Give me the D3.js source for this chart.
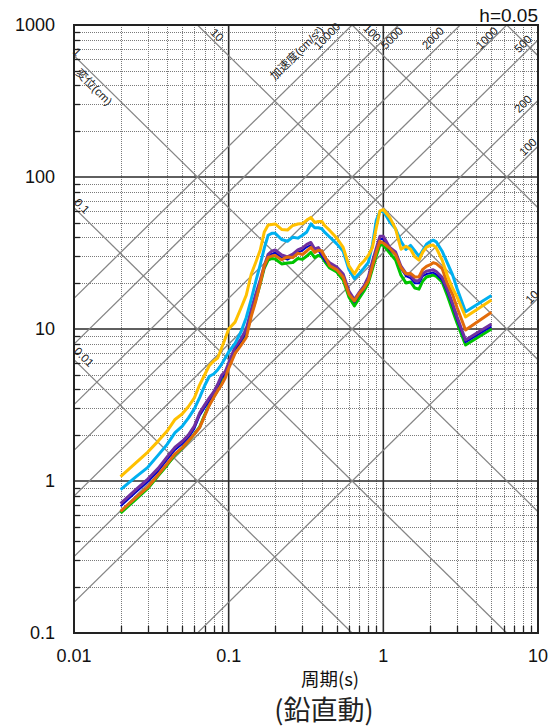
<!DOCTYPE html>
<html><head><meta charset="utf-8">
<script src="https://cdn.jsdelivr.net/npm/d3@7"></script>
<style>body{margin:0;background:#fff;} svg{display:block}</style>
</head><body>
<script>
// ---------- data ----------
const periods = [0.02,0.025,0.03,0.035,0.04,0.045,0.05,0.055,0.06,0.065,0.07,0.075,0.08,0.085,0.09,0.095,
  0.1,0.11,0.12,0.13,0.14,0.15,0.16,0.17,0.18,0.19,0.2,
  0.22,0.24,0.26,0.28,0.3,0.32,0.34,0.36,0.38,0.4,
  0.42,0.45,
  0.5,0.55,0.6,0.65,0.7,0.75,0.8,0.85,0.9,0.95,
  1.0,1.1,1.2,1.3,1.4,1.5,1.6,1.7,1.8,1.9,2.0,2.1,2.2,
  2.4,2.6,2.8,3.0,3.4,5.0];

const svYellow = [1.07,1.31,1.55,1.83,2.13,2.54,2.76,3.09,3.52,4.31,5.00,5.75,6.15,6.44,7.50,8.65,
  10.0,11.1,13.7,16.7,23.0,27.6,33.1,43.5,48.3,48.7,49.1,
  45.2,44.8,48.0,49.1,49.4,52.1,54.2,50.2,51.0,51.0,
  47.6,44.5,
  39.7,34.4,26.0,23.0,26.1,28.0,30.5,34.4,46.2,59.8,
  61.1,54.2,45.6,33.5,35.0,33.5,29.8,28.4,32.1,34.6,35.4,35.7,34.1,
  28.4,22.3,18.6,16.2,12.0,15.5];

const svCyan = [0.877,1.06,1.23,1.48,1.74,2.08,2.29,2.60,2.98,3.55,4.25,4.89,5.06,5.40,5.86,6.44,
  7.06,8.04,9.55,11.9,15.7,20.7,26.5,34.1,41.4,42.6,42.6,
  38.8,37.8,40.2,39.6,41.4,43.5,49.2,46.4,46.4,45.7,
  43.0,40.3,
  36.3,32.4,24.5,21.4,23.2,25.2,27.4,35.7,51.8,59.3,
  59.5,50.8,45.6,37.8,33.4,35.5,32.6,30.0,33.0,36.1,37.5,38.4,37.4,
  32.5,27.0,22.8,18.4,13.0,16.6];

const svPurple = [0.711,0.873,1.03,1.21,1.44,1.67,1.82,2.01,2.30,2.81,3.17,3.52,3.85,4.33,4.96,5.25,
  5.97,7.64,8.59,10.0,13.5,17.1,21.0,26.2,31.0,32.5,33.1,
  30.7,29.8,31.1,33.2,34.2,36.0,37.1,33.6,34.3,31.6,
  29.3,27.3,
  25.6,23.0,17.7,15.6,17.5,19.2,22.0,27.8,34.0,40.7,
  40.7,34.4,32.1,25.9,23.2,22.5,20.8,20.8,23.2,24.0,24.3,24.5,23.9,
  21.9,18.1,14.8,12.0,8.47,10.8];

const svBlue = [0.682,0.84,0.99,1.16,1.38,1.60,1.75,1.93,2.21,2.70,3.04,3.38,3.70,4.16,4.76,5.04,
  5.73,7.33,8.25,9.6,13.0,16.4,20.2,25.2,29.8,31.2,31.8,
  29.5,28.6,29.9,31.9,32.8,34.6,35.6,32.3,32.9,30.3,
  28.1,26.2,
  24.6,22.1,17.0,15.0,16.8,18.4,21.1,26.7,32.6,39.1,
  39.1,33.0,30.8,24.9,22.3,21.6,20.0,20.0,22.3,23.0,23.3,23.5,22.9,
  21.0,17.4,14.2,11.5,8.2,10.4];

const svGreen = [0.615,0.755,0.893,1.08,1.27,1.49,1.64,1.83,2.04,2.27,2.72,3.18,3.57,3.97,4.41,4.91,
  5.71,7.16,8.09,9.14,12.6,15.7,19.8,25.2,28.4,29.1,28.9,
  26.8,27.2,27.4,29.1,28.7,30.2,31.9,29.5,30.5,29.8,
  27.6,25.2,
  23.7,21.0,16.2,14.2,16.0,17.8,20.1,24.8,30.2,35.7,
  35.7,31.6,28.4,22.6,20.1,20.4,18.6,18.3,20.7,22.0,22.3,22.6,22.2,
  20.4,16.5,13.3,10.9,7.85,10.0];

const svOrange = [0.632,0.773,0.910,1.10,1.30,1.51,1.65,1.84,2.03,2.25,2.68,3.15,3.54,3.93,4.30,4.76,
  5.51,6.90,7.81,8.79,12.1,15.4,20.0,26.0,29.6,30.2,30.5,
  28.6,29.8,29.5,31.5,30.9,32.6,34.4,31.9,33.0,32.6,
  29.7,26.1,
  24.5,21.9,16.9,15.3,17.2,18.6,20.8,25.9,31.8,37.8,
  36.8,33.9,30.8,25.3,23.1,23.2,22.0,22.1,24.7,25.8,26.4,27.3,26.9,
  25.0,19.8,16.9,13.8,9.85,12.9];

const xTicks = [0.01,0.1,1,10];
const xTickLabels = ["0.01","0.1","1","10"];
const yTicks = [0.1,1,10,100,1000];
const yTickLabels = ["0.1","1","10","100","1000"];
const dispValues = [0.01,0.1,1,10,100,1000];        // displacement (cm)
const accValues = [10,100,200,500,1000,2000,5000,10000]; // acceleration (cm/s2)

const xTitle = "周期(s)";
const caption = "(鉛直動)";
const dampText = "h=0.05";

// ---------- layout ----------
const W = 550, H = 727;
const L = 74, R = 538, T = 25, B = 633;
const svg = d3.select("body").append("svg").attr("width", W).attr("height", H);
const x = d3.scaleLog().domain([0.01, 10]).range([L, R]);
const y = d3.scaleLog().domain([0.1, 1000]).range([B, T]);
const TWO_PI = 2 * Math.PI;
const LATIN = "'Liberation Sans', Arial, 'Noto Sans CJK JP', sans-serif";
const CJK = "'Noto Sans CJK JP', 'Liberation Sans', sans-serif";

svg.append("defs").append("clipPath").attr("id", "clip")
  .append("rect").attr("x", L).attr("y", T).attr("width", R - L).attr("height", B - T);

const grid = svg.append("g").attr("clip-path", "url(#clip)");

// minor grid
const minorX = [], minorY = [];
[0.01, 0.1, 1].forEach(d => { for (let k = 2; k <= 9; k++) minorX.push(d * k); });
[0.1, 1, 10, 100].forEach(d => { for (let k = 2; k <= 9; k++) minorY.push(d * k); });
const px = v => Math.round(x(v)) + 0.5;
const py = v => Math.round(y(v)) + 0.5;

grid.selectAll(".mx").data(minorX).join("line")
  .attr("x1", px).attr("x2", px).attr("y1", T).attr("y2", B)
  .attr("stroke", "#7a7a7a").attr("stroke-width", 1).attr("stroke-dasharray", "1,1")
  .attr("shape-rendering", "crispEdges");
grid.selectAll(".my").data(minorY).join("line")
  .attr("y1", py).attr("y2", py).attr("x1", L).attr("x2", R)
  .attr("stroke", "#7a7a7a").attr("stroke-width", 1).attr("stroke-dasharray", "1,1")
  .attr("shape-rendering", "crispEdges");

// major grid
grid.selectAll(".Mx").data([0.1, 1]).join("line")
  .attr("x1", d => x(d)).attr("x2", d => x(d)).attr("y1", T).attr("y2", B)
  .attr("stroke", "#2a2a2a").attr("stroke-width", 1.6);
grid.selectAll(".My").data([1, 10, 100]).join("line")
  .attr("y1", d => y(d)).attr("y2", d => y(d)).attr("x1", L).attr("x2", R)
  .attr("stroke", "#2a2a2a").attr("stroke-width", 1.6);

// diagonal lines (tripartite)
const [t0, t1] = x.domain();
grid.selectAll(".dl").data(dispValues).join("line")
  .attr("x1", x(t0)).attr("y1", d => y(TWO_PI * d / t0))
  .attr("x2", x(t1)).attr("y2", d => y(TWO_PI * d / t1))
  .attr("stroke", "#858585").attr("stroke-width", 1.3);
grid.selectAll(".al").data(accValues).join("line")
  .attr("x1", x(t0)).attr("y1", d => y(d * t0 / TWO_PI))
  .attr("x2", x(t1)).attr("y2", d => y(d * t1 / TWO_PI))
  .attr("stroke", "#858585").attr("stroke-width", 1.3);

// diagonal labels
const dLabels = [
  {t: "1", cx: 77, cy: 52}, {t: "変位(cm)", cx: 94, cy: 87},
  {t: "0.1", cx: 82, cy: 206}, {t: "0.01", cx: 84, cy: 357},
  {t: "10", cx: 217, cy: 35}, {t: "100", cx: 372, cy: 33}
];
const aLabels = [
  {t: "加速度(cm/s²)", cx: 297, cy: 53}, {t: "10000", cx: 327, cy: 36},
  {t: "5000", cx: 392, cy: 38}, {t: "2000", cx: 433, cy: 38},
  {t: "1000", cx: 487, cy: 38}, {t: "500", cx: 523, cy: 44},
  {t: "200", cx: 523, cy: 104}, {t: "100", cx: 528, cy: 147},
  {t: "10", cx: 532, cy: 297}
];
svg.selectAll(".dlab").data(dLabels).join("text")
  .attr("transform", d => `translate(${d.cx},${d.cy}) rotate(45)`)
  .attr("text-anchor", "middle").attr("dominant-baseline", "central")
  .attr("font-family", LATIN).attr("font-size", 11.5).attr("fill", "#222")
  .text(d => d.t);
svg.selectAll(".alab").data(aLabels).join("text")
  .attr("transform", d => `translate(${d.cx},${d.cy}) rotate(-45)`)
  .attr("text-anchor", "middle").attr("dominant-baseline", "central")
  .attr("font-family", LATIN).attr("font-size", 11.5).attr("fill", "#222")
  .text(d => d.t);

// series
const series = [
  {name: "green", color: "#00C400", w: 3, v: svGreen},
  {name: "blue", color: "#0000CC", w: 2, v: svBlue},
  {name: "purple", color: "#7030A0", w: 3, v: svPurple},
  {name: "orange", color: "#E26B0A", w: 3, v: svOrange},
  {name: "cyan", color: "#00B0F0", w: 3, v: svCyan},
  {name: "yellow", color: "#FFC000", w: 3, v: svYellow}
];
const line = d3.line().x(d => x(d[0])).y(d => y(d[1]));
svg.append("g").attr("clip-path", "url(#clip)")
  .selectAll("path").data(series).join("path")
  .attr("d", s => line(periods.map((p, i) => [p, s.v[i]])))
  .attr("fill", "none").attr("stroke", s => s.color).attr("stroke-width", s => s.w)
  .attr("stroke-linejoin", "round").attr("stroke-linecap", "butt");

// minor ticks (inside)
svg.selectAll(".ty").data(minorY).join("line")
  .attr("x1", L).attr("x2", L + 6).attr("y1", py).attr("y2", py)
  .attr("stroke", "#222").attr("stroke-width", 1.3);
svg.selectAll(".tx").data(minorX).join("line")
  .attr("x1", px).attr("x2", px).attr("y1", B).attr("y2", B - 7)
  .attr("stroke", "#222").attr("stroke-width", 1.3);

// border
svg.append("rect").attr("x", L).attr("y", T).attr("width", R - L).attr("height", B - T)
  .attr("fill", "none").attr("stroke", "#222").attr("stroke-width", 2);

// tick labels
svg.selectAll(".yl").data(yTicks).join("text")
  .attr("x", 55).attr("y", d => y(d)).attr("text-anchor", "end").attr("dominant-baseline", "central")
  .attr("font-family", LATIN).attr("font-size", 18).attr("fill", "#111")
  .text((d, i) => yTickLabels[i]);
svg.selectAll(".xl").data(xTicks).join("text")
  .attr("x", d => x(d)).attr("y", 656).attr("text-anchor", "middle").attr("dominant-baseline", "central")
  .attr("font-family", LATIN).attr("font-size", 18).attr("fill", "#111")
  .text((d, i) => xTickLabels[i]);

// titles (alphabetic baselines for stable placement)
svg.append("text").attr("x", 330).attr("y", 686).attr("text-anchor", "middle")
  .attr("font-family", CJK).attr("font-size", 18.5).attr("fill", "#111").text(xTitle);
svg.append("text").attr("x", 324).attr("y", 720).attr("text-anchor", "middle")
  .attr("font-family", CJK).attr("font-size", 27).attr("fill", "#222").text(caption);
svg.append("text").attr("x", R).attr("y", 15).attr("text-anchor", "end").attr("dominant-baseline", "central")
  .attr("font-family", LATIN).attr("font-size", 19).attr("fill", "#111").text(dampText);
</script>
</body></html>
